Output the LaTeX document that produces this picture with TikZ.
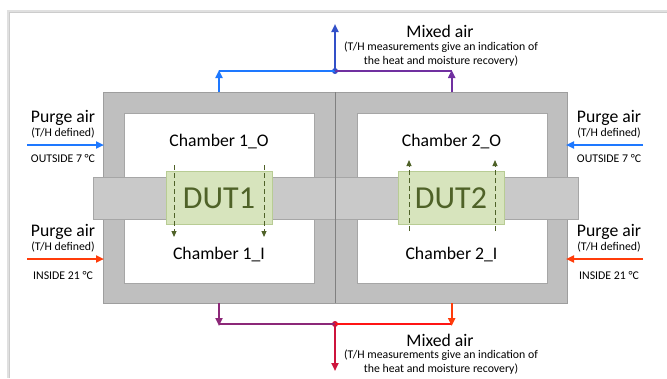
\documentclass[tikz,border=0pt]{standalone}
\usepackage{fontspec}
\setmainfont{Carlito}
\usetikzlibrary{arrows.meta}
\definecolor{cblue}{RGB}{30,120,255}
\definecolor{cmid}{RGB}{50,80,200}
\definecolor{cpurple}{RGB}{112,48,160}
\definecolor{cbpurple}{RGB}{140,40,120}
\definecolor{cred}{RGB}{255,60,10}
\definecolor{cbred}{RGB}{255,20,20}
\definecolor{ccrim}{RGB}{205,20,60}
\definecolor{dutfill}{RGB}{215,228,189}
\definecolor{dutdraw}{RGB}{184,204,148}
\definecolor{dutdark}{RGB}{79,98,40}
\tikzset{
  wall/.style={fill=black!25,draw=black!38,line width=0.8pt},
  band/.style={fill=black!21,draw=black!35,line width=0.6pt},
  chamber/.style={fill=white,draw=black!35,line width=0.6pt},
  dutbox/.style={fill=dutfill,draw=dutdraw,line width=0.8pt},
  flow/.style={line width=2pt,-{Triangle[length=8pt,width=7pt]}},
  pipe/.style={line width=2pt},
  dutarrow/.style={draw=dutdark,line width=1pt,dash pattern=on 5pt off 3pt,-{Triangle[length=6pt,width=5pt]}},
  big/.style={font=\fontsize{17.7}{20}\selectfont,inner sep=0pt},
  small/.style={font=\fontsize{11.8}{14}\selectfont,inner sep=0pt},
  duttext/.style={font=\fontsize{32}{36}\selectfont,text=dutdark,inner sep=0pt},
  dot/.style={circle,inner sep=0pt,minimum size=6pt}
}
\begin{document}
\begin{tikzpicture}[x=1pt,y=-1pt]
\useasboundingbox (0,0) rectangle (667,378);
% frame
\draw[black!12,line width=2.5pt] (8,378) -- (8,11) -- (667,11);
\draw[black!20,line width=0.8pt] (9.5,378) -- (9.5,12.5) -- (667,12.5);
% walls
\path[wall] (103,92) rectangle (335,303);
\path[wall] (335,92) rectangle (567,303);
% chambers
\path[chamber] (124,113) rectangle (314,283);
\path[chamber] (357,113) rectangle (547,283);
% band
\path[band] (93,177) rectangle (578,219);
\draw[black!50,line width=0.8pt] (335,92) -- (335,303);
% DUTs
\node[dutbox,minimum width=106pt,minimum height=53pt,inner sep=0pt] (dut1) at (219,197.8) {};
\node[dutbox,minimum width=106pt,minimum height=53pt,inner sep=0pt] (dut2) at (451,198) {};
\node[duttext] (dut1t) at (219,198) {DUT1};
\node[duttext] (dut2t) at (451,198) {DUT2};
% dashed arrows
\coordinate (d1a) at (174,165); \coordinate (d1b) at (174,237);
\coordinate (d1c) at (264,165); \coordinate (d1d) at (264,237);
\coordinate (d2a) at (409,231); \coordinate (d2b) at (409,160);
\coordinate (d2c) at (495,231); \coordinate (d2d) at (495,160);
\draw[dutarrow] (d1a) -- (d1b);
\draw[dutarrow] (d1c) -- (d1d);
\draw[dutarrow] (d2a) -- (d2b);
\draw[dutarrow] (d2c) -- (d2d);
% chamber labels
\node[big] (c1o) at (219,141.5) {Chamber 1\_O};
\node[big] (c1i) at (219,255) {Chamber 1\_I};
\node[big] (c2o) at (451.5,141.5) {Chamber 2\_O};
\node[big] (c2i) at (451.5,255) {Chamber 2\_I};
% left purge air
\node[big] (pl1) at (63,118) {Purge air};
\node[small] (pl1s) at (63,133) {(T/H defined)};
\node[small] (pl1t) at (63,159) {OUTSIDE 7 °C};
\coordinate (pl1a) at (27,145); \coordinate (pl1b) at (104,145);
\draw[flow,cblue] (pl1a) -- (pl1b);
\node[big] (pl2) at (63,232) {Purge air};
\node[small] (pl2s) at (63,247) {(T/H defined)};
\node[small] (pl2t) at (63,276) {INSIDE 21 °C};
\coordinate (pl2a) at (27,259); \coordinate (pl2b) at (104,259);
\draw[flow,cred] (pl2a) -- (pl2b);
% right purge air
\node[big] (pr1) at (609,118) {Purge air};
\node[small] (pr1s) at (609,133) {(T/H defined)};
\node[small] (pr1t) at (609,159) {OUTSIDE 7 °C};
\coordinate (pr1a) at (643,145); \coordinate (pr1b) at (566,145);
\draw[flow,cblue] (pr1a) -- (pr1b);
\node[big] (pr2) at (609,232) {Purge air};
\node[small] (pr2s) at (609,247) {(T/H defined)};
\node[small] (pr2t) at (609,276) {INSIDE 21 °C};
\coordinate (pr2a) at (643,259); \coordinate (pr2b) at (566,259);
\draw[flow,cred] (pr2a) -- (pr2b);
% top mixed air
\coordinate (t1) at (219,92); \coordinate (t1e) at (219,70);
\coordinate (t2) at (451.7,92); \coordinate (t2e) at (451.7,70);
\coordinate (tl) at (219,71); \coordinate (tr) at (451.7,71);
\node[dot,fill=cmid] (tj) at (335,71) {};
\coordinate (tup) at (335,24);
\draw[pipe,cblue] (tl) -- (tj.center);
\draw[pipe,cpurple] (tj.center) -- (tr);
\draw[flow,cblue] (t1) -- (t1e);
\draw[flow,cpurple] (t2) -- (t2e);
\draw[flow,cmid] (tj.center) -- (tup);
\node[big] (mt) at (440,31) {Mixed air};
\node[small,align=center] (mts) at (441,54) {(T/H measurements give an indication of\\the heat and moisture recovery)};
% bottom mixed air
\coordinate (b1) at (219,303); \coordinate (b1e) at (219,326);
\coordinate (b2) at (451.7,303); \coordinate (b2e) at (451.7,326);
\coordinate (bl) at (219,324); \coordinate (br) at (451.7,324);
\node[dot,fill=ccrim] (bj) at (335,324) {};
\coordinate (bdn) at (335,371);
\draw[pipe,cbpurple] (bl) -- (bj.center);
\draw[pipe,cbred] (bj.center) -- (br);
\draw[flow,cbpurple] (b1) -- (b1e);
\draw[flow,cred] (b2) -- (b2e);
\draw[flow,ccrim] (bj.center) -- (bdn);
\node[big] (mb) at (440,340) {Mixed air};
\node[small,align=center] (mbs) at (441,362) {(T/H measurements give an indication of\\the heat and moisture recovery)};
\end{tikzpicture}
\end{document}
